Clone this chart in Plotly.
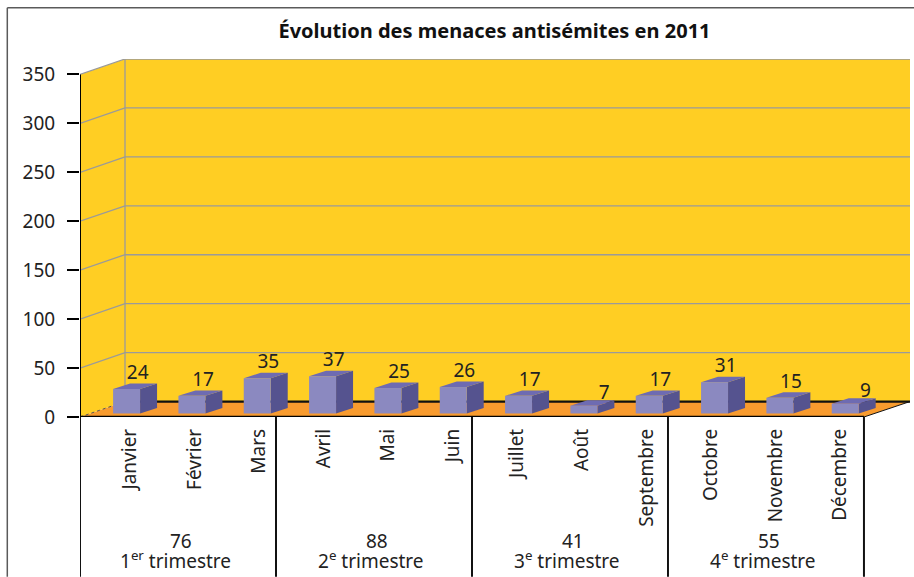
import plotly.graph_objects as go

months = ["Janvier", "Février", "Mars", "Avril", "Mai", "Juin", "Juillet", "Août",
          "Septembre", "Octobre", "Novembre", "Décembre"]
values = [24, 17, 35, 37, 25, 26, 17, 7, 17, 31, 15, 9]
quarter_totals = [76, 88, 41, 55]
quarter_names = ["1<sup>er</sup> trimestre", "2<sup>e</sup> trimestre",
                 "3<sup>e</sup> trimestre", "4<sup>e</sup> trimestre"]
y_ticks = [0, 50, 100, 150, 200, 250, 300, 350]

W, H = 914, 577
L, R, T, B = 80, 4, 58.5, 160
PX_X = (W - L - R) / 65.33   # x range, in month units
Y_TOP = 365.8
DX, DY = 0.689, 15.8          # depth of the chart box
BDX, BDY = 0.26, 5.6          # depth of a bar
BAR_W, BAR_C = 0.413, 0.713
BASE, TOP_LIFT = 3.6, 4.6
FONT = "Noto Sans"
TXT = "#222222"


def poly(xs, ys, fill, line=None, lw=0):
    return go.Scatter(x=xs, y=ys, mode="lines", fill="toself", fillcolor=fill,
                      line=dict(color=line or fill, width=lw), hoverinfo="skip",
                      showlegend=False, cliponaxis=False)


def path(xs, ys, color, width, dash="solid"):
    return go.Scatter(x=xs, y=ys, mode="lines", line=dict(color=color, width=width, dash=dash),
                      hoverinfo="skip", showlegend=False, cliponaxis=False)


fig = go.Figure()
# walls and floor
fig.add_trace(poly([0, DX, DX, 0, 0], [0, DY, Y_TOP, 350, 0], "#FFCE23"))
fig.add_trace(poly([DX, PX_X, PX_X, DX, DX], [DY, DY, Y_TOP, Y_TOP, DY], "#FFCE23"))
fig.add_trace(poly([0, 12, PX_X, DX, 0], [0, 0, DY, DY, 0], "#F89B2E"))
# grid
for v in y_ticks[1:]:
    fig.add_trace(path([0, DX, PX_X], [v, v + DY, v + DY], "#9A9A9A", 1.3))
fig.add_trace(path([DX, DX], [DY, Y_TOP], "#9A9A9A", 1.3))
# structural lines
fig.add_trace(path([DX, PX_X], [DY, DY], "#111111", 2.2))
fig.add_trace(path([0, DX], [0, DY], "#555555", 1, "dot"))
fig.add_trace(path([12, PX_X], [0, DY], "#111111", 1))
fig.add_trace(path([0, 12], [0, 0], "#000000", 2.5))
fig.add_trace(path([0, 0], [0, 350], "#000000", 2))

# bars
for i, v in enumerate(values):
    x0 = i + BAR_C - BAR_W / 2
    x1 = i + BAR_C + BAR_W / 2
    top = v + TOP_LIFT
    fig.add_trace(poly([x1, x1 + BDX, x1 + BDX, x1, x1],
                       [BASE, BASE + BDY, top + BDY, top, BASE], "#55538F"))
    fig.add_trace(poly([x0, x1, x1 + BDX, x0 + BDX, x0],
                       [top, top, top + BDY, top + BDY, top], "#6E6BB2"))
    fig.add_trace(poly([x0, x1, x1, x0, x0], [BASE, BASE, top, top, BASE], "#8B89C0"))

# value labels (single digits sit lower and further right, as in the source)
fig.add_trace(go.Scatter(
    x=[i + BAR_C + (0.31 if v < 10 else 0.17) for i, v in enumerate(values)],
    y=[v + TOP_LIFT + (12 if v < 10 else 15) for v in values],
    mode="text", text=[str(v) for v in values], textposition="middle center",
    textfont=dict(family=FONT, size=19, color=TXT),
    hoverinfo="skip", showlegend=False, cliponaxis=False))

shapes = []
paper_bottom = -B / (H - T - B)
for q in range(5):
    shapes.append(dict(type="line", xref="x", yref="paper", x0=q * 3, x1=q * 3, y0=0, y1=paper_bottom,
                       line=dict(color="#111111", width=2)))
# outer frame
fx = lambda p: (p - L) / (W - L - R)
fy = lambda p: (H - B - p) / (H - T - B)
shapes.append(dict(type="line", xref="paper", yref="paper", x0=fx(7.3), x1=fx(7.3), y0=fy(7.3), y1=fy(577),
                   line=dict(color="#5A5A5A", width=1.5)))
shapes.append(dict(type="line", xref="paper", yref="paper", x0=fx(7.3), x1=fx(914), y0=fy(7.3), y1=fy(7.3),
                   line=dict(color="#5A5A5A", width=1.5)))

annotations = []
for q, (t, n) in enumerate(zip(quarter_totals, quarter_names)):
    annotations.append(dict(xref="x", yref="paper", x=q * 3 + 1.54, y=fy(541), text=str(t),
                            showarrow=False, xanchor="center", yanchor="middle",
                            font=dict(family=FONT, size=19, color=TXT)))
    annotations.append(dict(xref="x", yref="paper", x=q * 3 + 1.46, y=fy(560), text=n,
                            showarrow=False, xanchor="center", yanchor="middle",
                            font=dict(family=FONT, size=19, color=TXT)))

fig.update_layout(
    width=W, height=H,
    margin=dict(l=L, r=R, t=T, b=B, autoexpand=False),
    paper_bgcolor="white", plot_bgcolor="white",
    title=dict(text="<b>Évolution des menaces antisémites en 2011</b>",
               x=494.5 / W, y=1 - 31 / H, xanchor="center", yanchor="middle",
               font=dict(family=FONT, size=20, color="#111111")),
    showlegend=False,
    shapes=shapes, annotations=annotations,
    xaxis=dict(range=[0, PX_X], showgrid=False, zeroline=False, showline=False, ticks="",
               tickmode="array", tickvals=[0.765 + i * 0.988 for i in range(12)], ticktext=months,
               tickangle=-90, ticklabelstandoff=7,
               tickfont=dict(family=FONT, size=19, color=TXT)),
    yaxis=dict(range=[0, Y_TOP], showgrid=False, zeroline=False, showline=False,
               ticks="outside", ticklen=12, tickwidth=2, tickcolor="#000000",
               tickmode="array", tickvals=y_ticks, ticklabelstandoff=8,
               tickfont=dict(family=FONT, size=19, color=TXT)),
)
fig.write_html("out.html", config={"displayModeBar": False},
               post_script="document.body.style.margin='0';document.body.style.overflow='hidden';")
